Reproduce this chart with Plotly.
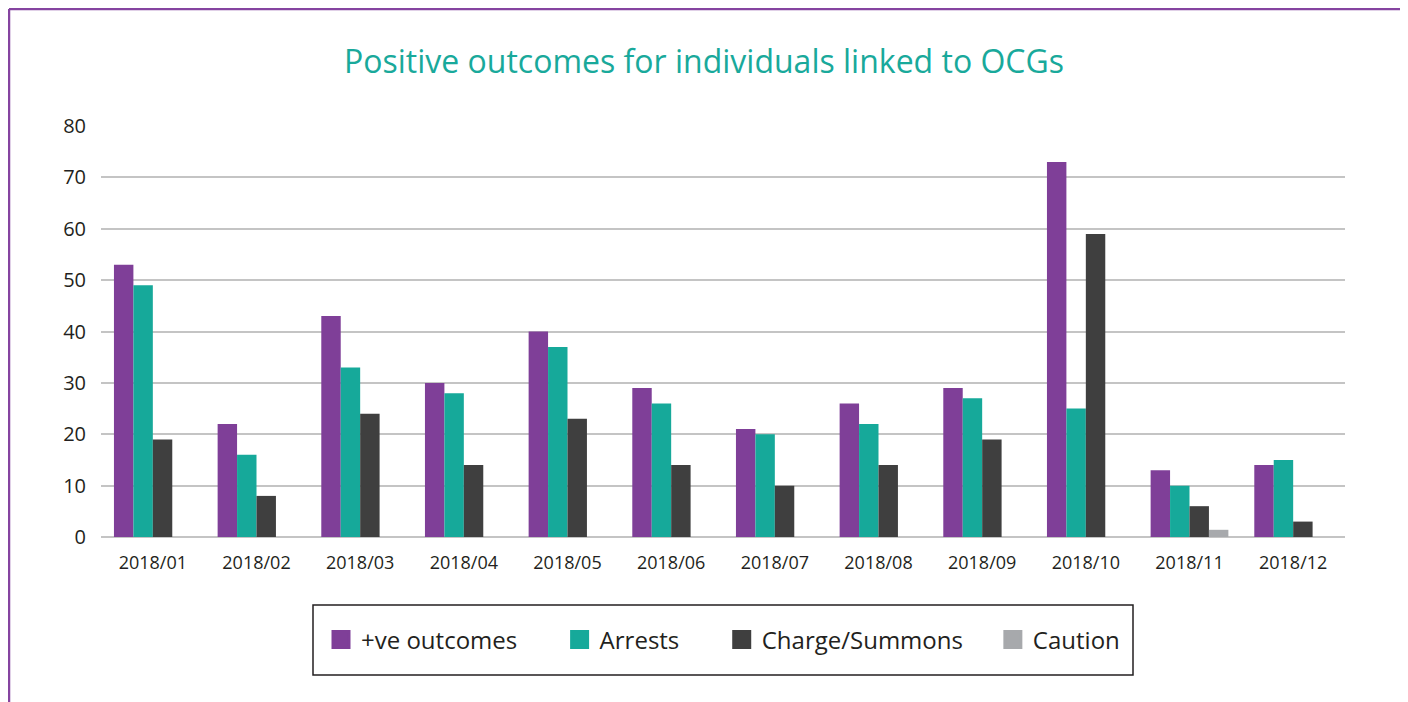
import plotly.graph_objects as go

months = ["2018/01", "2018/02", "2018/03", "2018/04", "2018/05", "2018/06",
          "2018/07", "2018/08", "2018/09", "2018/10", "2018/11", "2018/12"]
positive = [53, 22, 43, 30, 40, 29, 21, 26, 29, 73, 13, 14]
arrests = [49, 16, 33, 28, 37, 26, 20, 22, 27, 25, 10, 15]
charge = [19, 8, 24, 14, 23, 14, 10, 14, 19, 59, 6, 3]
caution = [0, 0, 0, 0, 0, 0, 0, 0, 0, 0, 1.4, 0]

series_names = ["+ve outcomes", "Arrests", "Charge/Summons", "Caution"]
series_colors = ["#7f3f98", "#16a99a", "#3f3f3f", "#a7a9ac"]
series_values = [positive, arrests, charge, caution]
legend_pad = [6, 6, 4, 0]

FONT = "Open Sans"
OFF = 8  # default page body margin
W, H = 1408 - OFF, 702 - OFF

fig = go.Figure()
for name, color, vals in zip(series_names, series_colors, series_values):
    fig.add_trace(go.Bar(x=months, y=vals, name=name, marker_color=color,
                         marker_line_width=0, showlegend=False))
for name, color, npad in zip(series_names, series_colors, legend_pad):
    fig.add_trace(go.Scatter(x=[None], y=[None], mode="markers",
                             name=name + "\u00a0" * npad,
                             marker=dict(symbol="square", size=20, color=color,
                                         line=dict(color=color, width=3))))

# plot area geometry (reference pixels, shifted by body margin)
L, R, T, B = 101 - OFF, 1345 - OFF, 126 - OFF, 537 - OFF
pw, ph = R - L, B - T

def px(x):
    return (x - OFF - L) / pw

def py(y):
    return (B - (y - OFF)) / ph

border = "#8544a0"
fig.update_layout(
    width=W, height=H,
    margin=dict(l=L, r=W - R, t=T, b=H - B),
    paper_bgcolor="white", plot_bgcolor="white",
    font=dict(family=FONT, color="#231f20"),
    title=dict(text="Positive outcomes for individuals linked to OCGs",
               x=(704 - OFF) / W, xref="container", xanchor="center",
               y=1 - (62 - OFF) / H, yref="container", yanchor="middle",
               font=dict(size=32, color="#19a99b", family=FONT, weight=500)),
    barmode="group", bargap=0.25, bargroupgap=0,
    showlegend=True,
    legend=dict(orientation="h", x=0.5, xanchor="center", y=py(640), yanchor="middle",
                bgcolor="rgba(0,0,0,0)", font=dict(size=24, color="#231f20", family=FONT),
                itemclick=False),
    xaxis=dict(type="category", showgrid=False, zeroline=False, showline=False,
               ticks="", ticklabelstandoff=13, tickfont=dict(size=18, color="#231f20")),
    yaxis=dict(range=[0, 80], dtick=10, showgrid=True, gridcolor="#c4c4c4", gridwidth=1.5,
               zeroline=True, zerolinecolor="#c4c4c4", zerolinewidth=1.5,
               showline=False, ticks="", ticklabelstandoff=14,
               tickfont=dict(size=20, color="#231f20")),
    shapes=[
        dict(type="rect", xref="paper", yref="paper", x0=px(313), x1=px(1133),
             y0=py(605), y1=py(675), line=dict(color="#231f20", width=1.5)),
        dict(type="line", xref="paper", yref="paper", x0=px(9), x1=px(9),
             y0=py(9), y1=py(720), line=dict(color=border, width=2.5)),
        dict(type="line", xref="paper", yref="paper", x0=px(1402), x1=px(1402),
             y0=py(9), y1=py(720), line=dict(color=border, width=2.5)),
        dict(type="line", xref="paper", yref="paper", x0=px(9), x1=px(1402),
             y0=py(9), y1=py(9), line=dict(color=border, width=2.5)),
    ],
)

fig.write_html("out.html")
